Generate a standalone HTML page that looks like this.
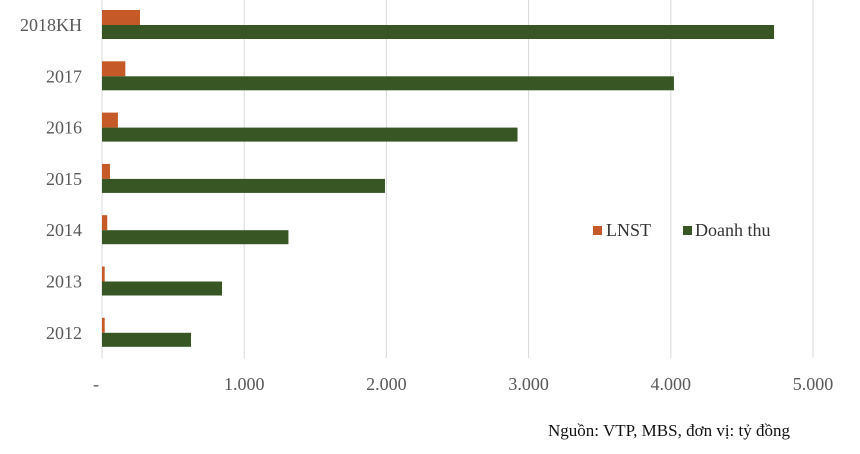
<!DOCTYPE html>
<html><head><meta charset="utf-8"><style>
body{margin:0;background:#fff;width:860px;height:449px;overflow:hidden}
svg text{font-family:"Liberation Serif",serif}
</style></head><body>
<svg width="860" height="449">
<g id="grid"></g><g id="bars"></g><g id="labels"></g>
<g>
<rect x="593" y="226" width="9" height="9" fill="#C55A28"/>
<text x="606" y="236" font-size="18" fill="#333">LNST</text>
<rect x="683" y="226" width="9" height="9" fill="#375623"/>
<text x="695" y="236" font-size="18" fill="#333">Doanh thu</text>
</g>
<text x="548" y="436" font-size="17" fill="#111">Nguồn: VTP, MBS, đơn vị: tỷ đồng</text>
</svg>
<script>
const categories=["2018KH","2017","2016","2015","2014","2013","2012"];
const lnst=[267,164,112,56,37,19,19];
const doanhThu=[4726,4022,2922,1990,1311,844,626];
const tickValues=[0,1000,2000,3000,4000,5000];
const tickLabels=["-","1.000","2.000","3.000","4.000","5.000"];
const NS="http://www.w3.org/2000/svg";
const x=v=>102+v*0.1422;
const yTop=i=>10+i*51.3;
function mk(tag,attrs,parent,txt){const e=document.createElementNS(NS,tag);for(const k in attrs)e.setAttribute(k,attrs[k]);if(txt!=null)e.textContent=txt;parent.appendChild(e);return e;}
const grid=document.getElementById('grid'),bars=document.getElementById('bars'),labels=document.getElementById('labels');
tickValues.forEach((v,i)=>{
 const l=mk('line',{x1:x(v),x2:x(v),y1:0,y2:358,stroke:'#d9d9d9','stroke-width':1},grid);
 
 
 const t=mk('text',{x:x(v)+(i===0?-6:0),y:390,'font-size':18,fill:'#595959','text-anchor':'middle'},labels,tickLabels[i]);
 
 
});
categories.forEach((c,i)=>{
 const y0=yTop(i);
 const o=mk('rect',{x:x(0),y:y0,width:x(lnst[i])-x(0),height:15,fill:'#C55A28'},bars);
 
 
 const g=mk('rect',{x:x(0),y:y0+15,width:x(doanhThu[i])-x(0),height:14,fill:'#375623'},bars);
 
 
 const t=mk('text',{x:82,y:y0+21,'font-size':18,fill:'#595959','text-anchor':'end'},labels,c);
 
 
});
</script>
</body></html>
